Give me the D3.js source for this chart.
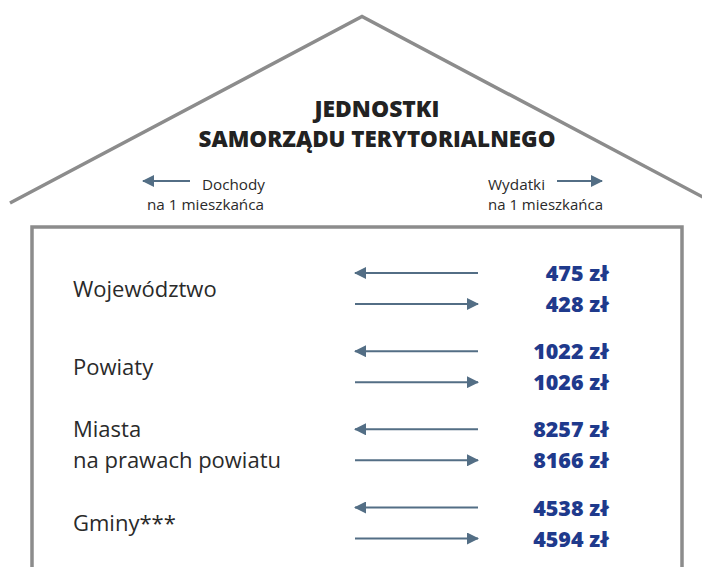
<!DOCTYPE html>
<html><head><meta charset="utf-8">
<script src="https://cdn.jsdelivr.net/npm/d3@7"></script>
<style>body{margin:0;background:#fff}svg{display:block}</style>
</head><body>
<svg id="c" width="702" height="567"></svg>
<script>
const categories = ["Województwo", "Powiaty", "Miasta\nna prawach powiatu", "Gminy***"];
const dochody = [475, 1022, 8257, 4538];
const wydatki = [428, 1026, 8166, 4594];
const titleLines = ["JEDNOSTKI", "SAMORZĄDU TERYTORIALNEGO"];
const legendLeft = ["Dochody", "na 1 mieszkańca"];
const legendRight = ["Wydatki", "na 1 mieszkańca"];

const W = 702, H = 567;
const svg = d3.select("#c");
svg.append("rect").attr("width", W).attr("height", H).attr("fill", "#fff");

const gray = "#8c8c8c", arrowCol = "#536e85", valCol = "#1f3a8c", txt = "#2a2a2a";
const font = "'Open Sans', 'Noto Sans', sans-serif";

const defs = svg.append("defs");
defs.append("marker").attr("id", "ah").attr("viewBox", "0 0 12 12")
  .attr("refX", 11).attr("refY", 6).attr("markerUnits", "userSpaceOnUse")
  .attr("markerWidth", 13).attr("markerHeight", 12).attr("orient", "auto")
  .append("path").attr("d", "M0,0 L12,6 L0,12 Z").attr("fill", arrowCol);

// Roof
svg.append("path")
  .attr("d", d3.line()([[10, 203], [362, 16.5], [714, 203]]))
  .attr("fill", "none").attr("stroke", gray).attr("stroke-width", 3.5);

// House body
svg.append("path")
  .attr("d", d3.line()([[32, 580], [32, 227], [682, 227], [682, 580]]))
  .attr("fill", "none").attr("stroke", gray).attr("stroke-width", 3.5);

// Title
svg.append("g").selectAll("text").data(titleLines).join("text")
  .attr("x", 377).attr("y", (d, i) => 117 + i * 30)
  .attr("text-anchor", "middle").attr("font-family", font).attr("font-weight", 800)
  .attr("font-size", 22.5).attr("fill", "#222")
  .attr("textLength", (d, i) => i === 0 ? 125 : 357).attr("lengthAdjust", "spacingAndGlyphs")
  .text(d => d);

// Legend
const lg = svg.append("g").attr("font-family", font).attr("font-size", 14.5).attr("fill", txt);
lg.append("line").attr("x1", 190).attr("x2", 143).attr("y1", 181).attr("y2", 181)
  .attr("stroke", arrowCol).attr("stroke-width", 2).attr("marker-end", "url(#ah)");
lg.append("text").attr("x", 202).attr("y", 190).attr("textLength", 63).attr("lengthAdjust", "spacingAndGlyphs").text(legendLeft[0]);
lg.append("text").attr("x", 147).attr("y", 210).attr("textLength", 117).attr("lengthAdjust", "spacingAndGlyphs").text(legendLeft[1]);
lg.append("line").attr("x1", 557).attr("x2", 602).attr("y1", 181).attr("y2", 181)
  .attr("stroke", arrowCol).attr("stroke-width", 2).attr("marker-end", "url(#ah)");
lg.append("text").attr("x", 488).attr("y", 190).attr("textLength", 57).attr("lengthAdjust", "spacingAndGlyphs").text(legendRight[0]);
lg.append("text").attr("x", 488).attr("y", 210).attr("textLength", 115).attr("lengthAdjust", "spacingAndGlyphs").text(legendRight[1]);

// Rows
const y = d3.scalePoint().domain(categories).range([288.5, 523]);
const off = d3.scalePoint().domain(["doch", "wyd"]).range([-15.5, 15.5]);
const x = d3.scaleLinear().domain([0, 1]).range([355, 478]);

const rows = categories.map((c, i) => ({c, d: dochody[i], w: wydatki[i]}));
const g = svg.append("g");
const row = g.selectAll("g.row").data(rows).join("g").attr("class", "row")
  .attr("transform", d => `translate(0,${y(d.c)})`);

// label
row.append("text").attr("font-family", font).attr("font-size", 22).attr("fill", txt)
  .selectAll("tspan").data(d => d.c.split("\n").map((t, k, arr) => ({t, k, n: arr.length})))
  .join("tspan").attr("x", 73)
  .attr("y", d => (d.k - (d.n - 1) / 2) * 31 + 8)
  .text(d => d.t);

// arrows
row.append("line").attr("x1", x(1)).attr("x2", x(0)).attr("y1", off("doch")).attr("y2", off("doch"))
  .attr("stroke", arrowCol).attr("stroke-width", 2).attr("marker-end", "url(#ah)");
row.append("line").attr("x1", x(0)).attr("x2", x(1)).attr("y1", off("wyd")).attr("y2", off("wyd"))
  .attr("stroke", arrowCol).attr("stroke-width", 2).attr("marker-end", "url(#ah)");

// values
const fmt = v => `${v} zł`;
row.append("text").attr("x", 609).attr("y", off("doch") + 8).attr("text-anchor", "end")
  .attr("font-family", font).attr("font-weight", 800).attr("font-size", 21.5).attr("fill", valCol)
  .text(d => fmt(d.d));
row.append("text").attr("x", 609).attr("y", off("wyd") + 8).attr("text-anchor", "end")
  .attr("font-family", font).attr("font-weight", 800).attr("font-size", 21.5).attr("fill", valCol)
  .text(d => fmt(d.w));
</script>
</body></html>
